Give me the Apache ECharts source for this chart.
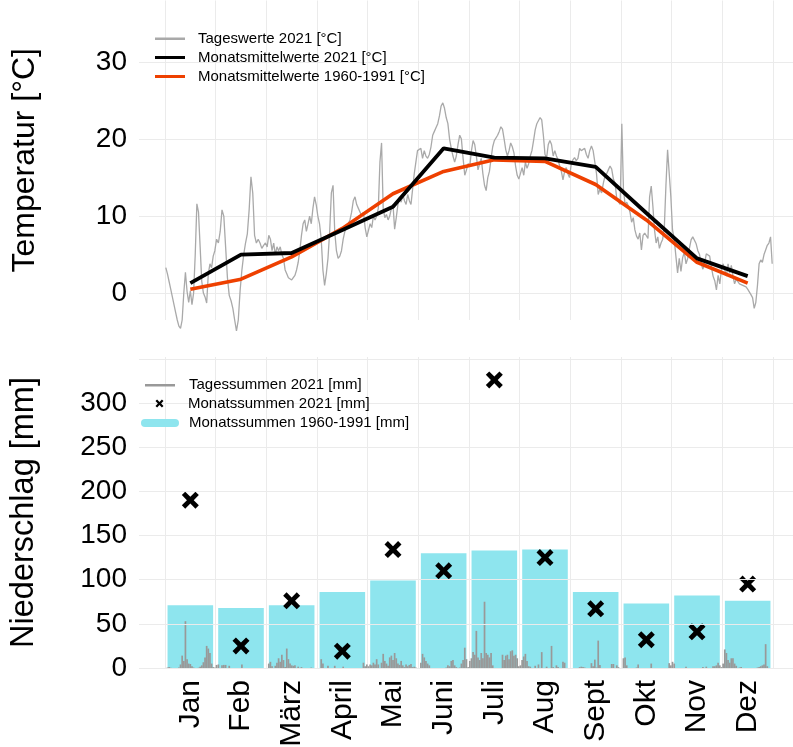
<!DOCTYPE html>
<html><head><meta charset="utf-8">
<script src="https://cdn.jsdelivr.net/npm/echarts@6/dist/echarts.min.js"></script>
<style>html,body{margin:0;padding:0;background:#fff}#chart{width:793px;height:747px}</style>
</head><body><div id="chart"></div>
<script>
// ---------- data ----------
const monate = ['Jan','Feb','März','April','Mai','Juni','Juli','Aug','Sept','Okt','Nov','Dez'];
const tempTicks = [0, 10, 20, 30];
const precTicks = [0, 50, 100, 150, 200, 250, 300];

// Tageswerte 2021 [°C]
const tempJan = [3.3,2.5,1.5,0.5,-0.5,-1.5,-2.5,-3.5,-4.3,-4.6,-3.5,0,2.7,0.2,-1.2,0.3,-1.5,0,5,11.6,10.5,6,1.5,0,-0.5,-1.3,2.5,3.8,3.3,4.8,5.5];
const tempFeb = [7,6.5,8,10.8,10,6,2,-0.3,-1,-2,-3.5,-4.9,-3.5,0.3,3,5,6.5,7.7,10.8,15.1,13,7.5,6.5,7,6.5,5.8,6.2,6.5];
const tempMar = [6,7.5,7,5.5,6.5,5,6,5.5,6,5,4.5,3,2.5,2,1.8,1.7,2,2.3,3,4,5.5,7.5,9,9.5,8,9,10,9,11,12.5,11.5];
const tempApr = [10,9,7,3,1,2.5,4.5,8,13,14,8,5.5,4.5,4.8,5.5,7,8,8.5,9,9.5,10.5,12,12.5,11.5,11,10.5,10,10.5,8.5,7.3];
const tempMay = [7.5,9,8.5,10,9.5,10,11,17,19.5,11,9.8,10.2,9.5,10,11,11.5,8.3,9.8,11.5,12.5,11.8,12.8,12,11.5,12.8,12,11.5,13.5,15.5,17,18.5];
const tempJun = [18.5,18.8,17.5,18.5,17.8,17.5,18,19,20.5,21,21.5,22,23,24.3,24.7,24,22.8,22,20,18.8,17.8,17,17.8,19.3,20.5,20,17.5,15.3,16,16.8];
const tempJul = [16.5,18.5,19.8,19.3,17.8,16,16.8,17.5,15.5,14,13.3,15,15.8,17.5,19,19.8,20,20.5,21,21.6,21.3,20,18.6,17.8,18.5,19.5,19,18.2,16.5,15.3,14.8];
const tempAug = [15,16.3,15.3,17,16.2,16.8,17.8,18.5,19.8,21.2,22,22.2,22.8,22.5,20.5,18,17.6,19.3,19.8,19.3,17.8,18.5,17.8,17.3,16.5,15.8,14.7,15.8,16.3,15.5,15];
const tempSep = [16.7,17.3,17.6,17.2,17.5,18.8,18.5,18.3,18.8,18,17.5,18.5,19.1,18.5,17,15.5,12.8,13.5,13,14.2,15.2,15.5,16,16.5,16.1,14.8,14.3,12.2,12,11.5];
const tempOct = [22,13.5,11.5,11.8,11.3,10.5,9.2,9.8,8.2,7.4,7,7.8,5.6,7.5,7.8,7.7,7.1,12.5,13.9,11.3,8.2,6.5,7.3,5.8,6.5,7,8.5,14,18.6,18.8,12.5];
const tempNov = [8.2,7,4.8,2.6,4.5,2.8,4.6,5.3,3.8,4.5,5.8,6.9,7.3,7.1,6.4,5.5,5,3.8,3.1,3.9,5.1,5.3,4.8,3.4,2.2,1.6,0.4,2.3,1.2,3.1];
const tempDec = [3.8,3,2.2,3.8,2.6,3.6,2.2,1.2,1.8,1.5,1.2,1.3,1,0.9,0.8,0.5,0.3,-0.2,-0.6,-2,-1.2,1,3.8,4.3,4,5,5.6,6.2,6.5,7.3,3.8];

// Monatsmittelwerte [°C]
const mittel2021 = [1.3,5.0,5.2,8.2,11.2,18.8,17.6,17.5,16.4,10.4,4.5,2.2];
const mittel1960 = [0.5,1.8,4.7,8.4,12.9,15.8,17.3,17.1,14.1,9.5,4.0,1.3];

// Tagessummen 2021 [mm]
const precJan = [0,0.5,1,0.3,0,0,0,0,0.5,4,14,8,53,10,5,4.5,2,0.5,0,0,0.3,1.5,3,6.5,12,25,22,17,5,1,0.5];
const precFeb = [3.5,4,0,3,3.5,3.5,0,2.5,0,0,0,0,0,0,4,0,0,0,0,0,0,0,0,0,0,0,0,0];
const precMar = [0,5,7,2,0,2.5,6,11,7,15,9,1,22,10,5,3,2.5,3,0,1.5,0,1,0,0,0,0,0,0.5,0,0,0];
const precApr = [0,0,10,5,0,0,2.5,0,0,0,2.5,0,0,0,0,1.5,0,0,0,0,0,0,0,0,0,0,0,6,2,4];
const precMay = [2,4,3,6,4,10,4,0,6,16,8,5,2.5,12,14,9,17,11,5,3.5,8,3,1,4,2,3.5,4.5,1,1.5,0.5,0];
const precJun = [0,6,16,12,8,5,3,0,0,0,0,0,0,0,0,0,0.5,3,2,8,9,3,1,0,0.5,5,9,23,10,1];
const precJul = [8,11,18,15,42,12,9,17,11,75,17,15,12,17,3,0,0,0,0,0,15,9,14,15,10,19,20,14,15,11,2];
const precAug = [3,9,13,16,8,2,1.5,0,0,2.5,0,4,0,18,0,0,1.5,0,0,25,1,0,3,1,0,0,7,6,0,0,0];
const precSep = [0,0,0,0,0,1,1.5,1,0.5,0,0,0,5.5,2,9.5,0.5,31,3.5,0,0,0,0,0,0,4.5,4.5,0,3,1,0];
const precOct = [0,11,12,3,0,0,0,0,0,0.5,4,0,0,0,0,0,0,0,5,0,0,0,0,0,0,0,0,0,0,5.5,3];
const precNov = [7,5,0,0,0,0,0,0,1.5,0,0,0,0,0,0,0,0,0,1,0,1.5,0,0,0,2,2,3,6,3,1];
const precDec = [5,21,17,9,6,11,11,5,2.5,0,0.5,1,0,0,0,0,0,0,0,0,0,0.5,1,2,3,4,27,2,0,0,0];

// Monatssummen [mm]
const summen2021 = [190,25,76,19,134,110,326,125,67,32,41,95];
const summen1960 = [71,68,71,86,99,130,133,134,86,73,82,76];

// ---------- chart ----------
const FONT = '"Liberation Sans", Arial, sans-serif';
const GRID = '#ebebeb';
const tempMonths = [tempJan,tempFeb,tempMar,tempApr,tempMay,tempJun,tempJul,tempAug,tempSep,tempOct,tempNov,tempDec];
const precMonths = [precJan,precFeb,precMar,precApr,precMay,precJun,precJul,precAug,precSep,precOct,precNov,precDec];
function daily(months){
  const out = [];
  months.forEach((arr, m) => arr.forEach((v, i) => out.push([m + (i + 0.5) / arr.length, v])));
  return out;
}
function monthly(arr){ return arr.map((v, m) => [m + 0.5, v]); }

const XPATH = 'path://M0,4 L4,0 L10,6 L16,0 L20,4 L14,10 L20,16 L16,20 L10,14 L4,20 L0,16 L6,10 Z';
const PILL = 'path://M4,0 L34,0 A4,4 0 0 1 34,8 L4,8 A4,4 0 0 1 4,0 Z';

function leg(name, left, cy, icon, w, h, padLeft){
  return {
    data: [name], left: left, top: cy - h / 2, padding: 0, orient: 'vertical', z: 20,
    icon: icon, itemWidth: w, itemHeight: h, selectedMode: false,
    textStyle: {fontSize: 15, color: '#000', fontFamily: FONT, padding: [0, 0, 0, padLeft]}
  };
}

const chart = echarts.init(document.getElementById('chart'), null, {renderer: 'canvas'});
chart.setOption({
  animation: false,
  backgroundColor: '#fff',
  textStyle: {fontFamily: FONT},
  legend: [
    leg('Tageswerte 2021 [°C]', 155, 32.5, 'rect', 30, 2.5, 8),
    leg('Monatsmittelwerte 2021 [°C]', 155, 51.5, 'rect', 30, 3, 8),
    leg('Monatsmittelwerte 1960-1991 [°C]', 155, 70.5, 'rect', 30, 3, 8),
    leg('Tagessummen 2021 [mm]', 145, 379, 'rect', 30, 2.5, 9),
    leg('Monatssummen 2021 [mm]', 155.5, 400, XPATH, 9, 8, 19),
    leg('Monatssummen 1960-1991 [mm]', 141, 419.5, PILL, 38, 8, 5)
  ],
  grid: [
    {left: 139, right: 0, top: 0.5, height: 319.5, outerBoundsMode: 'none'},
    {left: 165, right: 20, top: 0.5, height: 319.5, outerBoundsMode: 'none'},
    {left: 139, right: 0, top: 357, height: 311, outerBoundsMode: 'none'},
    {left: 165, right: 20, top: 357, height: 311, outerBoundsMode: 'none'}
  ],
  xAxis: [
    {gridIndex: 0, type: 'value', min: 0, max: 1, show: false},
    {gridIndex: 1, type: 'value', min: 0, max: 12, interval: 1,
      axisLine: {show: false}, axisTick: {show: false}, axisLabel: {show: false},
      splitLine: {show: true, lineStyle: {color: GRID, width: 1}}},
    {gridIndex: 2, type: 'value', min: 0, max: 1, show: false},
    {gridIndex: 3, type: 'category', data: monate, boundaryGap: true,
      axisLine: {show: false}, axisTick: {show: false},
      axisLabel: {interval: 0, rotate: 90, margin: 12, fontSize: 30, color: '#000', fontFamily: FONT},
      splitLine: {show: true, interval: 0, lineStyle: {color: GRID, width: 1}}},
    {gridIndex: 3, type: 'value', min: 0, max: 12, show: false}
  ],
  yAxis: [
    {gridIndex: 0, type: 'value', min: -3.5, max: 38,
      axisLine: {show: false}, axisTick: {show: false},
      axisLabel: {fontSize: 28, color: '#000', margin: 12, fontFamily: FONT,
        formatter: v => tempTicks.includes(v) ? String(v) : ''},
      splitLine: {show: true, showMinLine: false, showMaxLine: false, lineStyle: {color: GRID, width: 1}},
      name: 'Temperatur [°C]', nameLocation: 'middle', nameGap: 98,
      nameTextStyle: {fontSize: 32, color: '#000', fontFamily: FONT}},
    {gridIndex: 1, type: 'value', min: -3.5, max: 38, show: false},
    {gridIndex: 2, type: 'value', min: 0, max: 352, interval: 50,
      axisLine: {show: false}, axisTick: {show: false},
      axisLabel: {fontSize: 28, color: '#000', margin: 12, fontFamily: FONT,
        formatter: v => precTicks.includes(v) ? String(v) : ''},
      splitLine: {show: true, showMaxLine: false, lineStyle: {color: GRID, width: 1}},
      name: 'Niederschlag [mm]', nameLocation: 'middle', nameGap: 98,
      nameTextStyle: {fontSize: 32.5, color: '#000', fontFamily: FONT}},
    {gridIndex: 3, type: 'value', min: 0, max: 352, interval: 50, z: 6,
      axisLine: {show: false}, axisTick: {show: false}, axisLabel: {show: false},
      splitLine: {show: true, showMaxLine: false, lineStyle: {color: GRID, width: 1}}}
  ],
  series: [
    {name: 'Tageswerte 2021 [°C]', type: 'line', xAxisIndex: 1, yAxisIndex: 1,
      data: daily(tempMonths), showSymbol: false, symbol: 'none', clip: false, z: 2,
      color: '#a9a9a9', lineStyle: {color: '#a9a9a9', width: 1.3}},
    {name: 'Monatsmittelwerte 1960-1991 [°C]', type: 'line', xAxisIndex: 1, yAxisIndex: 1,
      data: monthly(mittel1960), showSymbol: false, symbol: 'none', z: 3,
      color: '#EE4000', lineStyle: {color: '#EE4000', width: 3.6}},
    {name: 'Monatsmittelwerte 2021 [°C]', type: 'line', xAxisIndex: 1, yAxisIndex: 1,
      data: monthly(mittel2021), showSymbol: false, symbol: 'none', z: 4,
      color: '#000', lineStyle: {color: '#000', width: 3.8}},
    {name: 'Monatssummen 1960-1991 [mm]', type: 'bar', xAxisIndex: 3, yAxisIndex: 3,
      data: summen1960, barWidth: '90%', z: 2, color: '#8EE5EE', itemStyle: {color: '#8EE5EE'}},
    {name: 'Tagessummen 2021 [mm]', type: 'bar', xAxisIndex: 4, yAxisIndex: 3,
      data: daily(precMonths), barWidth: 1.7, z: 3, color: '#999999', itemStyle: {color: '#999999'}},
    {name: 'Monatssummen 2021 [mm]', type: 'scatter', xAxisIndex: 3, yAxisIndex: 3,
      data: summen2021, symbol: XPATH, symbolSize: 17, z: 4, color: '#000',
      itemStyle: {color: '#000', opacity: 1}}
  ]
});
</script></body></html>
